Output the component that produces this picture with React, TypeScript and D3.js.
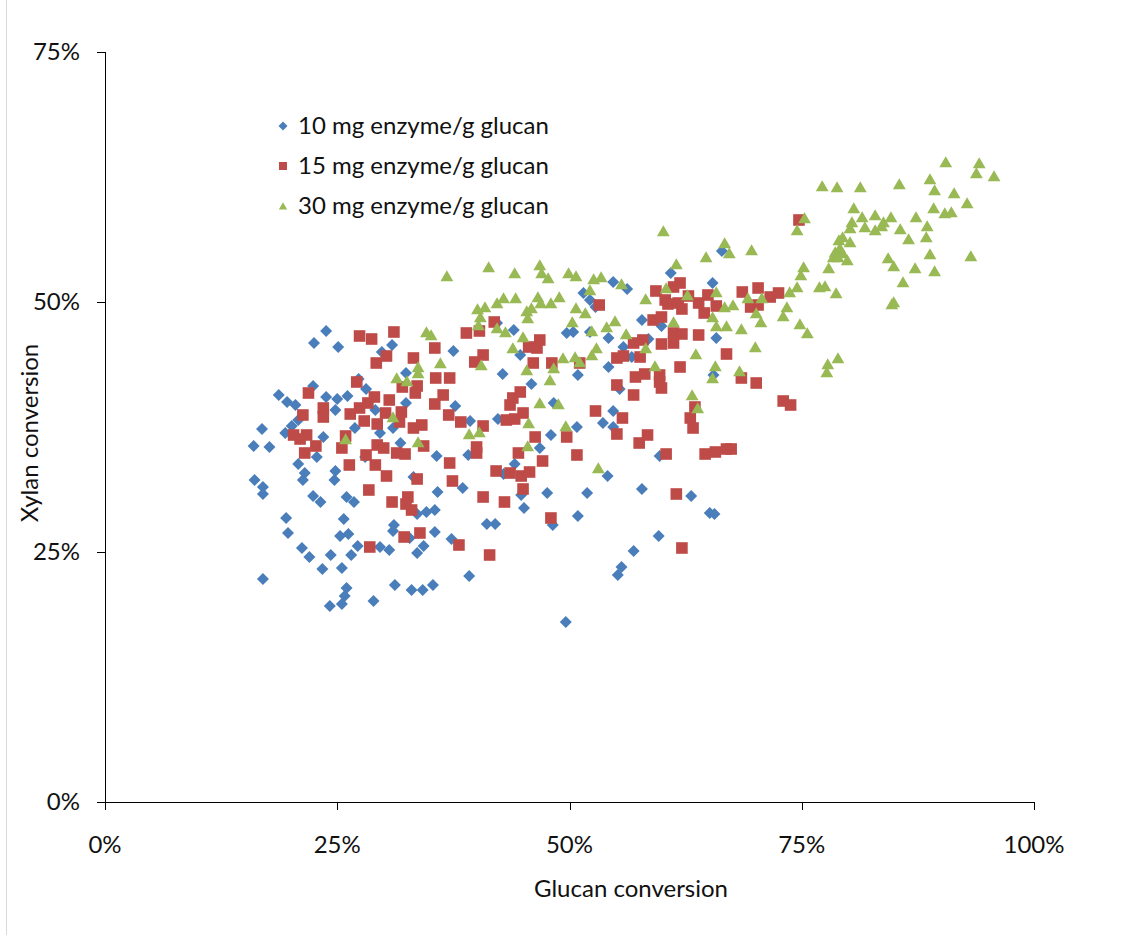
import React from "react";
import * as d3 from "d3";

// [glucan conversion %, xylan conversion %]
const series10mg: [number, number][] = [
  [20.8,33.8],[21.5,32.9],[21.3,32.2],[16.1,32.2],[17.0,31.5],[17.0,30.8],[24.8,33.1],[24.7,32.2],[22.4,30.6],[23.2,30.0],[26.0,30.5],[26.8,30.0],[19.5,28.4],[25.7,28.3],[19.7,26.9],[25.3,26.6],[26.2,26.8],[31.1,27.7],[31.0,27.1],[32.8,26.4],[21.2,25.4],[22.0,24.5],[24.3,24.7],[26.5,24.7],[27.2,25.6],[29.6,25.5],[30.6,25.2],[33.6,24.9],[23.4,23.3],[25.5,23.4],[17.0,22.3],[26.0,21.4],[31.2,21.7],[33.0,21.2],[25.8,20.6],[25.5,19.8],[24.2,19.6],[28.9,20.1],[33.2,32.5],
  [23.8,47.1],[22.5,45.9],[25.1,45.5],[30.9,45.7],[29.8,45.0],[32.4,42.9],[27.3,42.3],[28.1,41.3],[22.4,41.6],[18.7,40.7],[19.6,40.0],[20.5,39.7],[23.8,40.5],[25.0,40.3],[26.1,40.6],[24.8,39.2],[32.4,39.9],[29.1,39.2],[16.9,37.3],[20.1,37.6],[19.4,36.9],[20.8,38.2],[23.5,36.5],[26.9,37.4],[29.6,36.9],[16.0,35.6],[17.7,35.5],[22.8,34.5],[31.8,35.9],[28.0,34.5],[31.0,37.4],
  [51.5,50.9],[52.2,50.2],[44.0,47.2],[49.7,46.9],[50.4,47.0],[52.2,47.0],[37.5,45.1],[44.7,44.7],[42.8,42.8],[45.9,41.8],[50.9,42.7],[37.7,39.6],[48.3,39.9],[42.2,47.9],
  [39.3,38.1],[42.3,38.3],[35.7,34.6],[39.1,34.7],[44.1,33.8],[42.9,32.8],[46.8,35.4],[48.0,36.7],[50.8,37.5],[35.8,31.0],[38.5,31.4],[44.8,30.7],[47.6,30.9],[51.9,30.9],[34.6,29.0],[35.5,29.2],[33.6,28.8],[45.1,29.4],[50.9,28.6],[41.1,27.8],[42.0,27.8],[48.2,27.7],[35.5,27.0],[37.3,26.3],[34.3,25.6],[39.2,22.6],[35.3,21.7],[34.2,21.2],[49.6,18.0],
  [66.4,55.1],[60.9,52.9],[65.4,51.9],[54.7,52.0],[56.2,51.3],[52.8,49.5],[57.8,48.2],[59.9,47.6],[54.2,46.4],[65.8,46.4],[55.8,45.5],[56.7,44.5],[54.2,43.5],[58.5,46.3],[65.5,42.7],[55.4,41.3],
  [54.7,39.1],[53.6,37.9],[54.7,37.5],[59.7,34.6],[54.1,32.6],[57.8,31.3],[63.1,30.6],[65.1,28.9],[65.6,28.8],[59.6,26.6],[56.9,25.1],[55.6,23.5],[55.2,22.7],
];

const series15mg: [number, number][] = [
  [26.3,33.7],[29.1,33.7],[30.3,32.6],[28.4,31.2],[30.9,30.0],[32.6,30.5],[32.4,29.8],[33.0,29.2],[32.2,26.5],[28.5,25.5],[33.6,32.3],[33.9,26.9],
  [27.4,46.6],[28.7,46.3],[31.1,47.0],[29.2,43.9],[30.3,44.6],[33.2,44.4],[27.1,42.0],[32.0,41.5],[33.4,40.9],[21.9,40.9],[23.5,39.4],[23.5,38.5],[21.3,38.7],[26.4,38.8],[27.4,39.4],[29.0,40.5],[30.6,40.2],[28.3,39.9],[30.2,38.9],[31.9,39.0],[27.9,38.1],[29.3,37.8],[31.7,38.0],[33.2,37.4],[20.3,36.7],[21.7,36.7],[21.0,36.3],[22.7,35.6],[21.5,34.9],[25.9,36.6],[25.5,35.4],[28.1,34.7],[29.3,35.7],[30.0,35.4],[31.4,34.9],[32.3,34.8],
  [41.9,48.0],[40.3,47.1],[38.9,46.9],[35.5,45.4],[40.7,44.7],[39.8,44.0],[46.8,46.2],[45.6,45.5],[46.5,45.4],[46.1,43.9],[48.1,43.9],[51.1,43.9],[35.6,42.4],[37.1,42.4],[33.6,41.6],[36.4,40.7],[35.5,39.8],[44.7,41.0],[43.9,40.4],[43.6,39.7],
  [37.0,38.7],[38.3,38.0],[40.7,37.6],[45.0,38.9],[43.2,38.2],[44.1,38.3],[34.1,37.7],[34.3,35.6],[40.0,35.5],[40.0,34.9],[46.3,36.5],[49.7,36.5],[44.5,34.9],[47.1,34.1],[50.8,34.7],[37.1,33.9],[42.1,33.1],[43.6,32.9],[44.8,32.6],[45.7,33.0],[37.4,32.1],[45.0,31.3],[40.7,30.5],[43.0,30.0],[48.0,28.4],[38.1,25.7],[41.4,24.7],
  [59.3,51.1],[61.9,51.9],[61.2,51.5],[60.3,50.2],[60.6,49.8],[61.7,49.9],[62.1,49.3],[62.8,50.6],[63.9,49.9],[64.9,50.7],[65.8,49.6],[64.5,48.9],[68.6,51.0],[69.5,49.5],[70.3,51.4],[53.2,49.7],[59.0,48.2],[59.9,48.5],[61.2,46.9],[62.1,46.8],[63.9,46.7],[59.9,45.8],[61.2,45.9],[56.9,45.9],[57.9,46.2],[55.1,44.4],[55.8,44.6],[57.6,44.5],[61.9,43.5],[66.9,44.8],[57.1,42.5],[58.1,42.8],[59.7,42.7],[59.7,42.0],[59.9,41.4],[55.1,41.7],[56.9,40.7],[68.5,42.4],[70.1,41.9],
  [52.8,39.1],[55.7,38.4],[55.1,36.8],[58.4,36.7],[57.5,35.9],[63.0,38.4],[63.3,37.4],[63.5,39.5],[60.4,34.8],[64.6,34.8],[65.7,35.0],[66.9,35.3],[67.4,35.3],[61.5,30.8],[62.1,25.4],
  [74.7,58.2],[72.5,50.9],[71.6,50.5],[70.3,49.7],[73.0,40.1],[73.8,39.7],
];

const series30mg: [number, number][] = [
  [31.4,42.4],[32.5,42.1],[33.7,43.5],[31.0,38.5],[25.9,36.3],[33.7,36.0],
  [36.8,52.6],[41.3,53.5],[44.1,52.9],[46.8,53.7],[47.0,52.9],[47.7,52.4],[49.9,52.9],[50.7,52.6],[40.1,49.3],[40.9,49.5],[42.2,49.9],[42.9,50.4],[44.2,50.4],[46.6,50.5],[46.9,49.9],[48.0,49.9],[48.9,50.5],[45.4,49.1],[45.9,49.4],[45.5,48.4],[40.4,48.5],[40.2,47.7],[50.7,49.4],[51.7,48.9],[50.3,48.0],[42.2,47.4],[43.1,47.0],[34.6,47.0],[35.1,46.7],[45.0,46.5],[43.9,45.4],[36.1,43.9],[40.5,43.7],[33.7,42.9],[49.3,44.4],[50.6,44.5],[51.1,44.0],[48.3,43.4],[45.4,43.2],[47.9,42.2],[46.8,39.9],[48.8,39.8],
  [45.6,37.9],[49.6,37.6],[39.2,36.8],[40.3,37.0],[45.5,35.6],
  [60.1,57.1],[66.7,55.9],[67.2,54.9],[69.6,55.2],[64.7,54.5],[61.5,53.8],[53.4,52.5],[52.6,52.3],[52.2,51.2],[55.6,51.8],[60.4,51.4],[62.7,50.7],[65.8,51.0],[58.2,50.3],[69.2,50.4],[65.4,48.5],[66.7,49.5],[67.6,49.7],[61.2,48.0],[70.1,48.9],[65.8,47.6],[66.9,47.6],[68.5,47.3],[54.9,48.1],[54.0,47.5],[52.4,47.1],[56.1,46.8],[58.2,45.4],[52.9,45.4],[52.4,44.7],[70.0,45.5],[63.6,44.8],[59.2,43.6],[65.7,43.6],[68.3,43.1],[65.4,42.4],[63.2,40.7],
  [63.8,39.4],[53.1,33.4],
  [90.5,64.0],[94.1,63.9],[93.8,62.9],[95.7,62.6],[77.2,61.6],[78.8,61.5],[81.3,61.5],[85.5,61.8],[88.8,62.3],[89.3,61.2],[91.4,60.9],[92.8,59.9],[80.6,59.4],[89.2,59.4],[90.4,58.9],[91.1,59.0],[87.3,58.5],[81.5,58.5],[82.9,58.7],[84.6,58.5],[83.8,58.0],[80.4,58.0],[80.2,57.4],[81.8,57.5],[82.9,57.2],[83.6,57.6],[85.6,57.3],[88.5,57.6],[88.4,56.5],[86.5,56.3],[79.4,56.5],[79.0,56.2],[80.2,56.0],[79.1,55.4],[78.6,55.0],[79.4,54.9],[78.4,54.5],[78.9,54.5],[79.9,54.2],[75.3,58.4],[74.5,57.2],[88.8,54.8],[93.2,54.6],[84.3,54.4],[84.9,53.6],[87.2,53.4],[89.3,53.1],[77.9,53.4],[75.2,53.5],[74.9,52.7],[85.9,52.0],[77.5,51.6],[76.9,51.5],[78.7,50.9],[74.5,51.5],[73.7,51.0],[84.9,50.0],[84.7,49.8],[70.7,50.4],[73.4,49.5],[73.0,48.6],[70.6,48.0],[74.8,47.8],[75.6,46.9],[78.9,44.4],[77.8,43.8],[77.7,43.0],
];

const seriesNames = ["10 mg enzyme/g glucan", "15 mg enzyme/g glucan", "30 mg enzyme/g glucan"];
const xTicks = [0, 0.25, 0.5, 0.75, 1];
const yTicks = [0, 0.25, 0.5, 0.75];
const xTitle = "Glucan conversion";
const yTitle = "Xylan conversion";

const W = 1131, H = 935;
const M = { left: 105, right: 1034, top: 52, bottom: 802 };
const FONT = "Lato, 'Open Sans', sans-serif";
const COLORS = ["#4A7EBB", "#BE4B48", "#98B954"];

const diamond = (r: number) => `M0,${-r}L${r},0L0,${r}L${-r},0Z`;
const square = (r: number) => `M${-r},${-r}H${r}V${r}H${-r}Z`;
const triangle = (r: number) => `M0,${-r * 0.95}L${r * 1.05},${r * 0.85}L${-r * 1.05},${r * 0.85}Z`;
const shapes = [diamond, square, triangle];

export default function App() {
  const x = d3.scaleLinear().domain([0, 1]).range([M.left, M.right]);
  const y = d3.scaleLinear().domain([0, 0.75]).range([M.bottom, M.top]);
  const fmt = d3.format(".0%");
  const all = [series10mg, series15mg, series30mg];
  const sizes = [6, 5.8, 6.1];

  return (
    <svg width={W} height={H} style={{ position: "absolute", left: 0, top: 0, background: "#fff" }}>
      <rect x={0} y={0} width={W} height={H} fill="#fff" />
      <line x1={6.5} x2={6.5} y1={0} y2={H} stroke="#d9d9d9" />
      {/* axes */}
      <line x1={M.left + 0.5} x2={M.left + 0.5} y1={M.top} y2={M.bottom} stroke="#000" />
      <line x1={M.left} x2={M.right} y1={M.bottom + 0.5} y2={M.bottom + 0.5} stroke="#000" />
      {yTicks.map((t) => (
        <g key={"y" + t}>
          <line x1={M.left - 8} x2={M.left} y1={Math.round(y(t)) + 0.5} y2={Math.round(y(t)) + 0.5} stroke="#000" />
          <text x={80} y={y(t)} dy="0.35em" textAnchor="end" fontFamily={FONT} fontSize={24} fill="#111">
            {fmt(t)}
          </text>
        </g>
      ))}
      {xTicks.map((t) => (
        <g key={"x" + t}>
          <line x1={Math.round(x(t)) + 0.5} x2={Math.round(x(t)) + 0.5} y1={M.bottom} y2={M.bottom + 8} stroke="#000" />
          <text x={x(t)} y={853} textAnchor="middle" fontFamily={FONT} fontSize={24} fill="#111">
            {fmt(t)}
          </text>
        </g>
      ))}
      <text x={631} y={897} textAnchor="middle" fontFamily={FONT} fontSize={24} fill="#111">
        {xTitle}
      </text>
      <text transform={`translate(38,433) rotate(-90)`} textAnchor="middle" fontFamily={FONT} fontSize={24} fill="#111">
        {yTitle}
      </text>
      {/* points */}
      {all.map((s, si) => (
        <g key={"s" + si} fill={COLORS[si]}>
          {s.map(([gx, xy], i) => (
            <path key={i} d={shapes[si](sizes[si])} transform={`translate(${x(gx / 100)},${y(xy / 100)})`} />
          ))}
        </g>
      ))}
      {/* legend */}
      {seriesNames.map((name, i) => {
        const cy = 126 + i * 40;
        return (
          <g key={"l" + i}>
            <path d={shapes[i](i === 0 ? 4.5 : 4)} transform={`translate(283,${cy})`} fill={COLORS[i]} />
            <text x={298} y={cy} dy="0.35em" fontFamily={FONT} fontSize={24} fill="#111">
              {name}
            </text>
          </g>
        );
      })}
    </svg>
  );
}
